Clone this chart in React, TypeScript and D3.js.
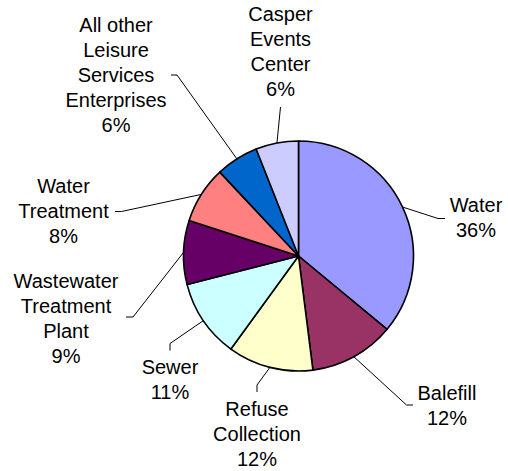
import React from "react";
import * as d3 from "d3";

// Enterprise fund shares, clockwise from 12 o'clock
const categories = [
  "Water",
  "Balefill",
  "Refuse Collection",
  "Sewer",
  "Wastewater Treatment Plant",
  "Water Treatment",
  "All other Leisure Services Enterprises",
  "Casper Events Center",
];
const shares = [36, 12, 12, 11, 9, 8, 6, 6];
const labelLines = [
  ["Water"],
  ["Balefill"],
  ["Refuse", "Collection"],
  ["Sewer"],
  ["Wastewater", "Treatment", "Plant"],
  ["Water", "Treatment"],
  ["All other", "Leisure", "Services", "Enterprises"],
  ["Casper", "Events", "Center"],
];
const colors = [
  "#9999FF",
  "#993366",
  "#FFFFCC",
  "#CCFFFF",
  "#660066",
  "#FF8080",
  "#0066CC",
  "#CCCCFF",
];

// Label placement: text centre x, first baseline y, and leader-line route
// (elbow point and end point) for each slice.
const labelLayout = [
  { x: 476, y: 212, elbow: [438, 218.5], end: [445, 218.5] },
  { x: 447, y: 399.5, elbow: [406.5, 405], end: [413, 405] },
  { x: 257, y: 416, elbow: [257, 385], end: [257, 392] },
  { x: 170, y: 373.5, elbow: [170, 343.5], end: [170, 350.5] },
  { x: 66, y: 287.5, elbow: [133, 317], end: [126, 317] },
  { x: 63.5, y: 193, elbow: [121.5, 211.5], end: [115, 211.5] },
  { x: 116, y: 32, elbow: [177, 75], end: [171, 75] },
  { x: 280.5, y: 21, elbow: [280.5, 107], end: [280.5, 107] },
];

const WIDTH = 508;
const HEIGHT = 471;
const CX = 298.5;
const CY = 256;
const R = 115;
const LINE_H = 25;
const FONT = "'Liberation Sans', Arial, Helvetica, sans-serif";

export default function App() {
  const total = d3.sum(shares);
  const pie = d3
    .pie<number>()
    .sort(null)
    .value((d) => d)
    .startAngle(0)
    .endAngle(2 * Math.PI);
  const arcs = pie(shares);
  const arc = d3.arc<d3.PieArcDatum<number>>().innerRadius(0).outerRadius(R);
  const rim = d3.arc<d3.PieArcDatum<number>>().innerRadius(R).outerRadius(R);

  return (
    <svg
      width={WIDTH}
      height={HEIGHT}
      style={{ position: "absolute", left: 0, top: 0, background: "#fff" }}
    >
      <g transform={`translate(${CX},${CY})`}>
        {arcs.map((a, i) => (
          <path
            key={categories[i]}
            d={arc(a) ?? ""}
            fill={colors[i]}
            stroke="#000"
            strokeWidth={1.6}
            strokeLinejoin="round"
          />
        ))}
      </g>
      {arcs.map((a, i) => {
        const [px, py] = rim.centroid(a);
        const L = labelLayout[i];
        const pts: [number, number][] = [
          [CX + px, CY + py],
          [L.elbow[0], L.elbow[1]],
          [L.end[0], L.end[1]],
        ];
        return (
          <path
            key={`leader-${i}`}
            d={d3.line()(pts) ?? ""}
            fill="none"
            stroke="#000"
            strokeWidth={1}
          />
        );
      })}
      {labelLines.map((lines, i) => {
        const L = labelLayout[i];
        const pct = `${d3.format(".0f")((shares[i] / total) * 100)}%`;
        const all = [...lines, pct];
        return (
          <text
            key={`label-${i}`}
            x={L.x}
            y={L.y}
            textAnchor="middle"
            fontFamily={FONT}
            fontSize={20}
            fill="#000"
          >
            {all.map((t, j) => (
              <tspan key={j} x={L.x} dy={j === 0 ? 0 : LINE_H}>
                {t}
              </tspan>
            ))}
          </text>
        );
      })}
    </svg>
  );
}
